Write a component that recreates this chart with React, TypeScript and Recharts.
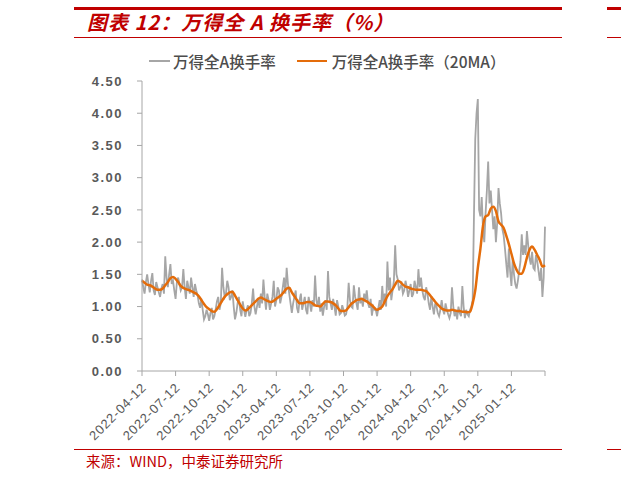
import React from 'react'
import { LineChart, Line, XAxis, YAxis } from 'recharts'

// weekly samples starting 2022-04-12 (week index 0..156)
const RAW_TURNOVER = [
  1.42, 1.2, 1.5, 1.22, 1.52, 1.18, 1.3, 1.15, 1.35, 1.78,
  1.3, 1.66, 1.4, 1.12, 1.45, 1.25, 1.58, 1.12, 1.3, 1.45,
  1.15, 1.25, 1.05, 1.12, 0.8, 0.95, 0.78, 0.98, 0.85, 1.08,
  0.95, 1.6, 1.15, 1.4, 1.1, 1.25, 0.8, 1.05, 0.95, 1.08,
  0.84, 1.02, 0.9, 1.28, 0.88, 1.12, 1.2, 1.42, 0.95, 1.1,
  1.05, 1.4, 1.1, 1.25, 1.15, 1.45, 1.6, 1.2, 0.9, 1.15,
  0.98, 1.1, 0.95, 1.15, 0.88, 1.05, 1.1, 1.48, 1.0, 0.92,
  0.86, 1.1, 1.55, 1.05, 1.12, 0.86, 1.0, 0.9, 0.95, 0.88,
  1.37, 1.0, 1.33, 1.05, 1.3, 1.12, 1.2, 1.25, 0.98, 0.86,
  0.95, 0.85, 1.1, 1.32, 1.2, 1.7, 1.45, 1.25, 1.95, 1.42,
  1.3, 1.2, 1.4, 1.15, 1.35, 1.2, 1.3, 1.58, 1.45, 1.15,
  1.3, 1.05, 1.15, 0.88, 1.0, 0.85, 1.1, 0.88, 0.95, 0.82,
  1.3, 0.85, 0.8, 0.9, 1.32, 0.82, 0.88, 0.95, 1.1, 3.6,
  4.22, 2.4, 2.2, 2.45, 3.25, 2.8, 2.2, 2.0, 2.84, 2.45,
  2.1, 1.67, 1.9, 1.32, 1.5, 1.28, 1.55, 2.12, 1.95, 2.17,
  1.75, 1.85, 1.57, 1.7, 1.4, 1.15, 2.24,
]

// mid-week samples (between week i and i+1)
const RAW_MIDWEEK = [
  1.3, 1.38, 1.35, 1.4, 1.25, 1.38, 1.22, 1.28, 1.2, 1.45,
  1.5, 1.35, 1.25, 1.38, 1.35, 1.3, 1.3, 1.4, 1.2, 1.3,
  1.35, 1.18, 0.98, 0.95, 0.85, 0.88, 0.9, 0.8, 0.95, 1.15,
  1.05, 1.3, 1.2, 1.3, 1.15, 1.0, 0.9, 1.15, 0.85, 0.95,
  0.95, 0.85, 1.05, 1.0, 1.0, 0.98, 1.05, 1.15, 1.2, 0.95,
  1.15, 1.0, 1.3, 1.05, 1.3, 1.2, 1.35, 1.05, 1.05, 1.25,
  0.9, 1.2, 1.05, 0.95, 1.15, 0.92, 1.0, 1.1, 1.15, 1.05,
  1.0, 0.95, 1.15, 0.95, 1.0, 1.1, 0.88, 1.02, 0.86, 1.0,
  1.1, 0.98, 1.15, 0.95, 1.05, 1.0, 1.1, 1.05, 1.12, 1.0,
  0.95, 0.98, 0.95, 1.05, 1.0, 1.25, 1.1, 1.4, 1.5, 1.25,
  1.35, 1.25, 1.3, 1.25, 1.15, 1.4, 1.2, 1.3, 1.25, 1.1,
  1.2, 0.95, 1.0, 1.05, 0.9, 0.95, 0.95, 1.05, 0.88, 0.9,
  1.0, 0.95, 1.0, 0.85, 1.0, 0.95, 0.85, 1.0, 2.4, 4.0,
  2.5, 2.7, 2.0, 2.8, 2.6, 2.5, 2.4, 2.3, 2.6, 2.2,
  1.9, 1.45, 1.55, 1.75, 1.35, 1.4, 1.7, 1.8, 1.8, 1.95,
  1.65, 1.6, 1.8, 1.55, 1.6, 1.45,
]

const MA20_TURNOVER = [
  1.4, 1.37, 1.34, 1.33, 1.31, 1.28, 1.26, 1.26, 1.28, 1.33,
  1.38, 1.44, 1.46, 1.43, 1.38, 1.32, 1.29, 1.27, 1.26, 1.24,
  1.22, 1.2, 1.16, 1.1, 1.04, 0.99, 0.96, 0.93, 0.92, 0.96,
  1.02, 1.09, 1.15, 1.19, 1.22, 1.23, 1.17, 1.1, 1.03, 0.97,
  0.94, 0.96, 1.0, 1.04, 1.08, 1.12, 1.14, 1.12, 1.1, 1.08,
  1.07, 1.09, 1.12, 1.15, 1.18, 1.23, 1.28, 1.29, 1.22, 1.16,
  1.1, 1.05, 1.05, 1.06, 1.07, 1.07, 1.05, 1.02, 1.01, 1.0,
  1.04, 1.08, 1.08, 1.07, 1.05, 1.02, 0.97, 0.93, 0.93, 0.94,
  0.99, 1.04, 1.07, 1.1, 1.11, 1.12, 1.1, 1.08, 1.05, 1.02,
  0.98, 0.95, 0.97, 1.0, 1.08, 1.16, 1.22, 1.27, 1.34, 1.4,
  1.38, 1.34, 1.31, 1.3, 1.28, 1.27, 1.26, 1.26, 1.26, 1.25,
  1.24, 1.2, 1.15, 1.1, 1.05, 1.01, 0.97, 0.95, 0.94, 0.94,
  0.95, 0.94, 0.93, 0.93, 0.92, 0.92, 0.91, 0.92, 1.05, 1.25,
  1.6, 1.9, 2.25, 2.4, 2.42, 2.52, 2.55, 2.48, 2.32, 2.27,
  2.22, 2.1, 1.97, 1.82, 1.67, 1.57, 1.51, 1.51, 1.6, 1.76,
  1.88, 1.93, 1.88, 1.8, 1.72, 1.62, 1.64,
]

const TICK_LABELS = [
  '2022-04-12', '2022-07-12', '2022-10-12', '2023-01-12',
  '2023-04-12', '2023-07-12', '2023-10-12', '2024-01-12',
  '2024-04-12', '2024-07-12', '2024-10-12', '2025-01-12', '',
]
const TICK_WEEKS = [0, 13, 26, 39, 52, 65, 78, 91, 104, 117, 130, 143, 156]
const Y_TICKS = [0, 0.5, 1, 1.5, 2, 2.5, 3, 3.5, 4, 4.5]

const RED = '#c00000'
const GRAY = '#a6a6a6'
const ORANGE = '#e46c0a'
const TEXT = '#595959'

const data: { w: number; raw: number; ma?: number }[] = []
RAW_TURNOVER.forEach((v, i) => {
  data.push({ w: i, raw: v, ma: MA20_TURNOVER[i] })
  if (i < RAW_MIDWEEK.length) data.push({ w: i + 0.5, raw: RAW_MIDWEEK[i] })
})

function DateTick(props: any) {
  const { x, y, payload } = props
  const idx = TICK_WEEKS.indexOf(payload.value)
  const label = idx >= 0 ? TICK_LABELS[idx] : ''
  return (
    <g transform={`translate(${x + 2},${y})`}>
      <text
        x={0}
        y={0}
        dy="0.35em"
        textAnchor="end"
        transform="rotate(-45)"
        fill={TEXT}
        fontSize={13}
        style={{ letterSpacing: 0.8, fontFamily: 'Liberation Sans, Arial, sans-serif' }}
      >
        {label}
      </text>
    </g>
  )
}

const hline = (left: number, top: number, width: number, h: number) => (
  <div style={{ position: 'absolute', left, top, width, height: h, background: RED }} />
)

export default function App() {
  return (
    <div style={{ position: 'absolute', left: 0, top: 0, width: 621, height: 480, background: '#fff', overflow: 'hidden' }}>
      <LineChart
        width={621}
        height={480}
        data={data}
        margin={{ top: 81, right: 76, bottom: 39, left: 0 }}
        style={{ position: 'absolute', left: 0, top: 0 }}
      >
        <XAxis
          dataKey="w"
          type="number"
          domain={[0, 156]}
          ticks={TICK_WEEKS}
          interval={0}
          height={70}
          tickSize={5}
          tickMargin={9}
          stroke={GRAY}
          tick={<DateTick />}
        />
        <YAxis
          type="number"
          domain={[0, 4.5]}
          ticks={Y_TICKS}
          interval={0}
          width={142}
          tickSize={5}
          tickMargin={14}
          stroke={GRAY}
          tickFormatter={(v: number) => v.toFixed(2)}
          tick={{ fill: TEXT, fontSize: 13, fontWeight: 600, style: { letterSpacing: 1.5, fontFamily: 'Liberation Sans, Arial, sans-serif' } }}
        />
        <Line type="linear" dataKey="raw" stroke={GRAY} strokeWidth={1.8} dot={false} isAnimationActive={false} />
        <Line type="monotone" dataKey="ma" stroke={ORANGE} strokeWidth={2.5} dot={false} connectNulls isAnimationActive={false} />
      </LineChart>

      {hline(74, 7, 488, 2.5)}
      {hline(74, 37, 488, 1)}
      {hline(74, 449, 488, 1)}
      {hline(607, 7, 14, 2.5)}
      {hline(607, 37, 14, 1)}
      {hline(607, 449, 14, 1)}

      <div
        style={{
          position: 'absolute', left: 87, top: 9, color: RED, fontSize: 20, fontWeight: 700, letterSpacing: 1,
          fontStyle: 'italic', fontFamily: '"Noto Sans CJK SC", sans-serif', whiteSpace: 'nowrap', lineHeight: '26px',
        }}
      >
        图表 12：万得全 A 换手率（%）
      </div>

      <div
        style={{
          position: 'absolute', left: 149, top: 51, display: 'flex', alignItems: 'center', color: '#4d4d4d',
          fontSize: 15.5, fontWeight: 500, fontFamily: '"Noto Sans CJK SC", sans-serif', whiteSpace: 'nowrap', lineHeight: '20px',
        }}
      >
        <span style={{ display: 'inline-block', width: 21, height: 2.5, background: GRAY, marginRight: 3 }} />
        <span>万得全A换手率</span>
        <span style={{ display: 'inline-block', width: 30, height: 2.5, background: ORANGE, marginLeft: 21, marginRight: 5 }} />
        <span>万得全A换手率（20MA）</span>
      </div>

      <div
        style={{
          position: 'absolute', left: 86, top: 451, color: RED, fontSize: 14.5,
          fontFamily: '"Noto Sans CJK SC", sans-serif', whiteSpace: 'nowrap', lineHeight: '20px',
        }}
      >
        来源：WIND，中泰证券研究所
      </div>
    </div>
  )
}
